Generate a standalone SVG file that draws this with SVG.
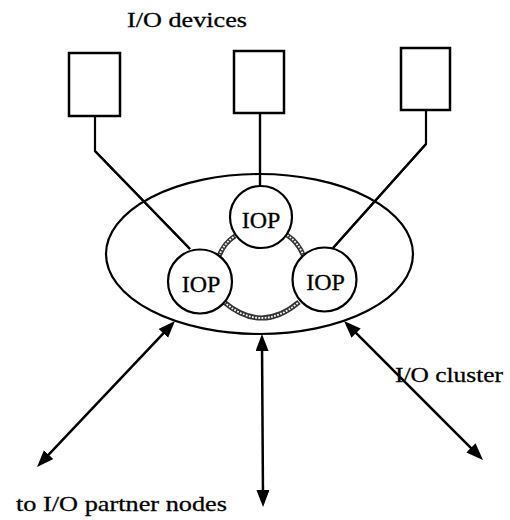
<svg xmlns="http://www.w3.org/2000/svg" width="510" height="520" viewBox="0 0 510 520">
<defs>
<style>
.box{fill:#fff;stroke:#000;stroke-width:2.5}
.wire{fill:none;stroke:#000;stroke-width:2.2}
.iop{fill:#fff;stroke:#000;stroke-width:2.2}
.lbl{font-family:"Liberation Serif","Times New Roman",serif;font-size:22px;fill:#000;stroke:#000;stroke-width:0.3}
.iopt{font-family:"Liberation Serif","Times New Roman",serif;font-size:24px;fill:#000;stroke:#000;stroke-width:0.3;text-anchor:middle}
.ringA{fill:none;stroke:#333;stroke-width:5}
.ringB{fill:none;stroke:#fff;stroke-width:1.8;stroke-dasharray:1.8 1.4}
.arr{fill:none;stroke:#000;stroke-width:2.5;marker-start:url(#ah);marker-end:url(#ah)}
</style>
<marker id="ah" markerUnits="userSpaceOnUse" markerWidth="18" markerHeight="14" refX="9" refY="6.5" orient="auto-start-reverse">
<path d="M0,0 L17,6.5 L0,13 z" fill="#000"/>
</marker>
</defs>
<rect width="510" height="520" fill="#fff"/>
<g id="connectors">
<polyline class="wire" points="95,116 95,151 190,249"/>
<polyline class="wire" points="260,113 260,186"/>
<polyline class="wire" points="426,110 426,144 333,248"/>
<path class="ringA" d="M219,256 Q224,243 235,236"/>
<path class="ringB" d="M219,256 Q224,243 235,236"/>
<path class="ringA" d="M287,235 Q299,243 304,257"/>
<path class="ringB" d="M287,235 Q299,243 304,257"/>
<path class="ringA" d="M224,302 Q261.5,334 299,302"/>
<path class="ringB" d="M224,302 Q261.5,334 299,302"/>
<line class="arr" x1="169.5" y1="326.8" x2="42.5" y2="461.2"/>
<line class="arr" x1="262" y1="342" x2="263" y2="499"/>
<line class="arr" x1="349.7" y1="326.7" x2="477.3" y2="454.3"/>
</g>
<g id="dev1"><rect class="box" x="69" y="53" width="51" height="63"/></g>
<g id="dev2"><rect class="box" x="234" y="51" width="50" height="62"/></g>
<g id="dev3"><rect class="box" x="401" y="48" width="49" height="62"/></g>
<g id="cluster"><ellipse cx="259.5" cy="254" rx="153.5" ry="80" fill="none" stroke="#000" stroke-width="2.2"/></g>
<g id="connectors-over">
<polyline class="wire" points="95,151 190,249"/>
<polyline class="wire" points="426,144 333,248"/>
<line class="wire" x1="260" y1="113" x2="260" y2="186"/>
</g>
<g id="iop-top"><circle class="iop" cx="261" cy="217" r="31"/><text class="iopt" x="261" y="228">IOP</text></g>
<g id="iop-left"><circle class="iop" cx="200" cy="281.5" r="32"/><text class="iopt" x="201" y="292">IOP</text></g>
<g id="iop-right"><circle class="iop" cx="324.5" cy="279.5" r="32"/><text class="iopt" x="325.5" y="290">IOP</text></g>
<g id="labels">
<text class="lbl" x="127" y="27" textLength="120" lengthAdjust="spacingAndGlyphs">I/O devices</text>
<text class="lbl" x="395" y="382" textLength="108" lengthAdjust="spacingAndGlyphs">I/O cluster</text>
<text class="lbl" x="16" y="511" textLength="211" lengthAdjust="spacingAndGlyphs">to I/O partner nodes</text>
</g>
</svg>
